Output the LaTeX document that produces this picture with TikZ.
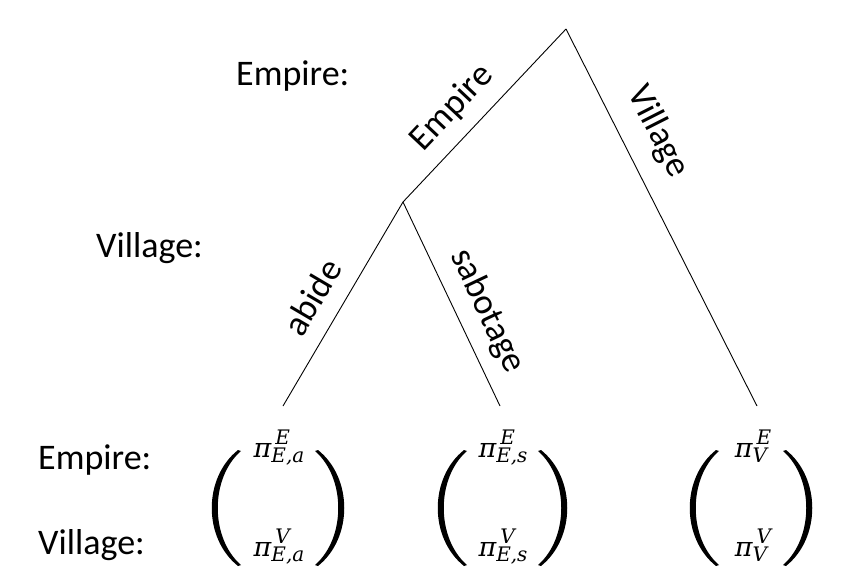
\documentclass[tikz,border=0pt]{standalone}
\usepackage{fontspec}
\setmainfont{Carlito}
\newfontfamily\piFont{DejaVu Serif}
\newcommand\scrFont{\fontsize{20}{24}\selectfont\piFont\itshape}
\newcommand\payoff[2]{{\piFont\itshape π}\rlap{\hspace{4pt}\raisebox{13pt}{\scrFont #1}}\raisebox{-5pt}{\scrFont #2}}
\tikzset{
  lbl/.style={font=\fontsize{36}{43}\selectfont, inner sep=0pt},
  entry/.style={font=\fontsize{27}{31}\selectfont, inner sep=0pt, anchor=base},
  branch/.style={line width=0.9pt, draw=black},
  paren/.pic={\fill[black] (1,-58) .. controls (-34,-30) and (-34,30) .. (1,58)
      -- (4,57) .. controls (-27,30) and (-27,-30) .. (4,-57) -- cycle;}
}
\begin{document}
\begin{tikzpicture}[x=1pt,y=-1pt]
\useasboundingbox[fill=white] (0,0) rectangle (841,586);
% tree vertices
\coordinate (root) at (566,29);
\coordinate (mid) at (403,202);
\coordinate (la) at (283,406);
\coordinate (ls) at (500,406);
\coordinate (lv) at (757,406);
% branches
\draw[branch] (mid) -- (root);
\draw[branch] (root) -- (lv);
\draw[branch] (la) -- (mid);
\draw[branch] (mid) -- (ls);
% branch labels
\node[lbl, rotate=46.7] (tEmp) at (452,108) {Empire};
\node[lbl, rotate=-63.1] (tVil) at (658,132) {Village};
\node[lbl, rotate=59.5] (tAb) at (312,297) {abide};
\node[lbl, rotate=-64.6] (tSab) at (487,311) {sabotage};
% player labels
\node[lbl, anchor=base west] (pE1) at (236,85) {Empire:};
\node[lbl, anchor=base west] (pV1) at (96,257) {Village:};
\node[lbl, anchor=base west] (pE2) at (38,469) {Empire:};
\node[lbl, anchor=base west] (pV2) at (38,554) {Village:};
% payoff vectors: entries
\node[entry] (aE) at (279,457) {\payoff{E}{E,a}};
\node[entry] (aV) at (279,556) {\payoff{V}{E,a}};
\node[entry] (sE) at (503,457) {\payoff{E}{E,s}};
\node[entry] (sV) at (503,556) {\payoff{V}{E,s}};
\node[entry] (vE) at (751,457) {\payoff{E}{V}};
\node[entry] (vV) at (751,556) {\payoff{V}{V}};
% payoff vectors: parentheses
\pic at (237,508) {paren};
\pic[xscale=-1] at (319,508) {paren};
\pic at (463,508) {paren};
\pic[xscale=-1] at (542,508) {paren};
\pic at (715,508) {paren};
\pic[xscale=-1] at (787,508) {paren};
\end{tikzpicture}
\end{document}
